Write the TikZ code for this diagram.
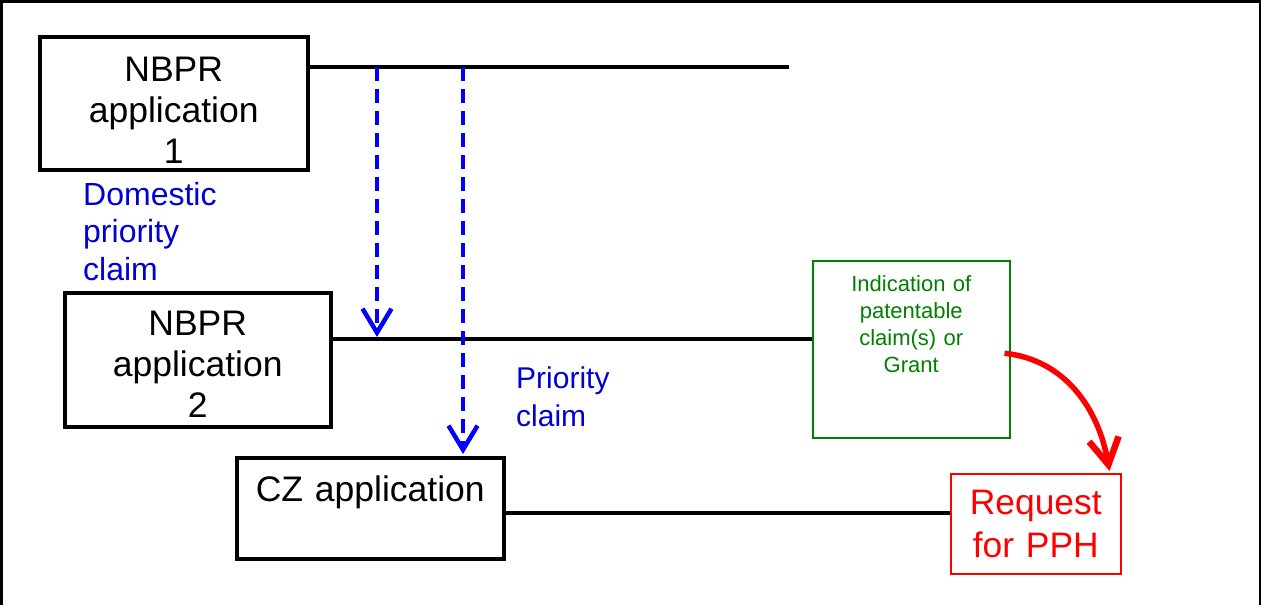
\documentclass[tikz,border=0pt]{standalone}
\usepackage{fontspec}
\setmainfont{Liberation Sans}
\usetikzlibrary{arrows.meta}

\definecolor{claimblue}{RGB}{0,0,210}
\definecolor{arrowblue}{RGB}{0,0,255}
\definecolor{grantgreen}{RGB}{0,128,0}
\definecolor{pphred}{RGB}{255,0,0}

\tikzset{
  appbox/.style={draw, line width=3.5pt, rectangle, inner sep=0pt, align=center,
    anchor=north west, font=\fontsize{35.5}{41}\selectfont},
  timeline/.style={line width=3.5pt},
  prioarrow/.style={draw=arrowblue, line width=3.5pt, dash pattern=on 14pt off 8pt,
    shorten >=2pt, -{Straight Barb[length=24pt,width=29pt,line width=4.5pt]}},
  prionote/.style={text=claimblue, align=left, anchor=base west, inner sep=0pt,
    text width=170pt}
}

\begin{document}
\begin{tikzpicture}[x=1pt, y=-1pt]
  \useasboundingbox (0,0) rectangle (1261,605);
  % frame
  \draw[line width=2.5pt] (1.25,605) -- (1.25,1.25) -- (1259.75,1.25) -- (1259.75,605);

  % applications
  \node[appbox, text width=268pt, text height=45pt, text depth=88pt] (nbpr1) at (38,35) {NBPR\\application\\1};
  \node[appbox, text width=266pt, text height=43pt, text depth=91pt] (nbpr2) at (63,291) {NBPR\\application\\2};
  \node[appbox, text width=267pt, text height=44pt, text depth=57pt] (cz) at (235,456) {CZ application};

  % results
  \node[draw=grantgreen, line width=1.5pt, text=grantgreen, inner sep=0pt, align=center,
    anchor=north west, text width=197pt, text height=31pt, text depth=146pt,
    font=\fontsize{22}{27}\selectfont] (grant) at (812,260) {Indication of\\patentable\\claim(s) or\\Grant};
  \node[draw=pphred, line width=1.5pt, text=pphred, inner sep=0pt, align=center,
    anchor=north west, text width=170pt, text height=41pt, text depth=59pt,
    font=\fontsize{35.4}{43}\selectfont] (pph) at (950,473) {Request\\for PPH};

  % time lines
  \coordinate (l1) at (789,67);
  \coordinate (l2) at (600,339);
  \coordinate (l3) at (700,513);
  \draw[timeline] (nbpr1.east |- l1) -- (l1);
  \draw[timeline] (nbpr2.east |- l2) -- (grant.west |- l2);
  \draw[timeline] (cz.east |- l3) -- (pph.west |- l3);

  % priority claims
  \coordinate (dom) at (377,67);
  \coordinate (prio) at (463,67);
  \draw[prioarrow] (dom) -- (dom |- l2);
  \draw[prioarrow] (prio) -- (prio |- cz.north);
  \node[prionote, font=\fontsize{32}{37.5}\selectfont] (domestic) at (83,205) {Domestic\\priority\\claim};
  \node[prionote, font=\fontsize{30}{38}\selectfont] (priority) at (516,388) {Priority\\claim};

  % request
  \draw[pphred, line width=5.5pt, -{Straight Barb[length=26pt,width=30pt,line width=6.5pt]}]
    ([shift={(-6pt,-4pt)}]grant.east) to[out=-6,in=100] ([xshift=-12pt,yshift=2pt]pph.north east);
\end{tikzpicture}
\end{document}
